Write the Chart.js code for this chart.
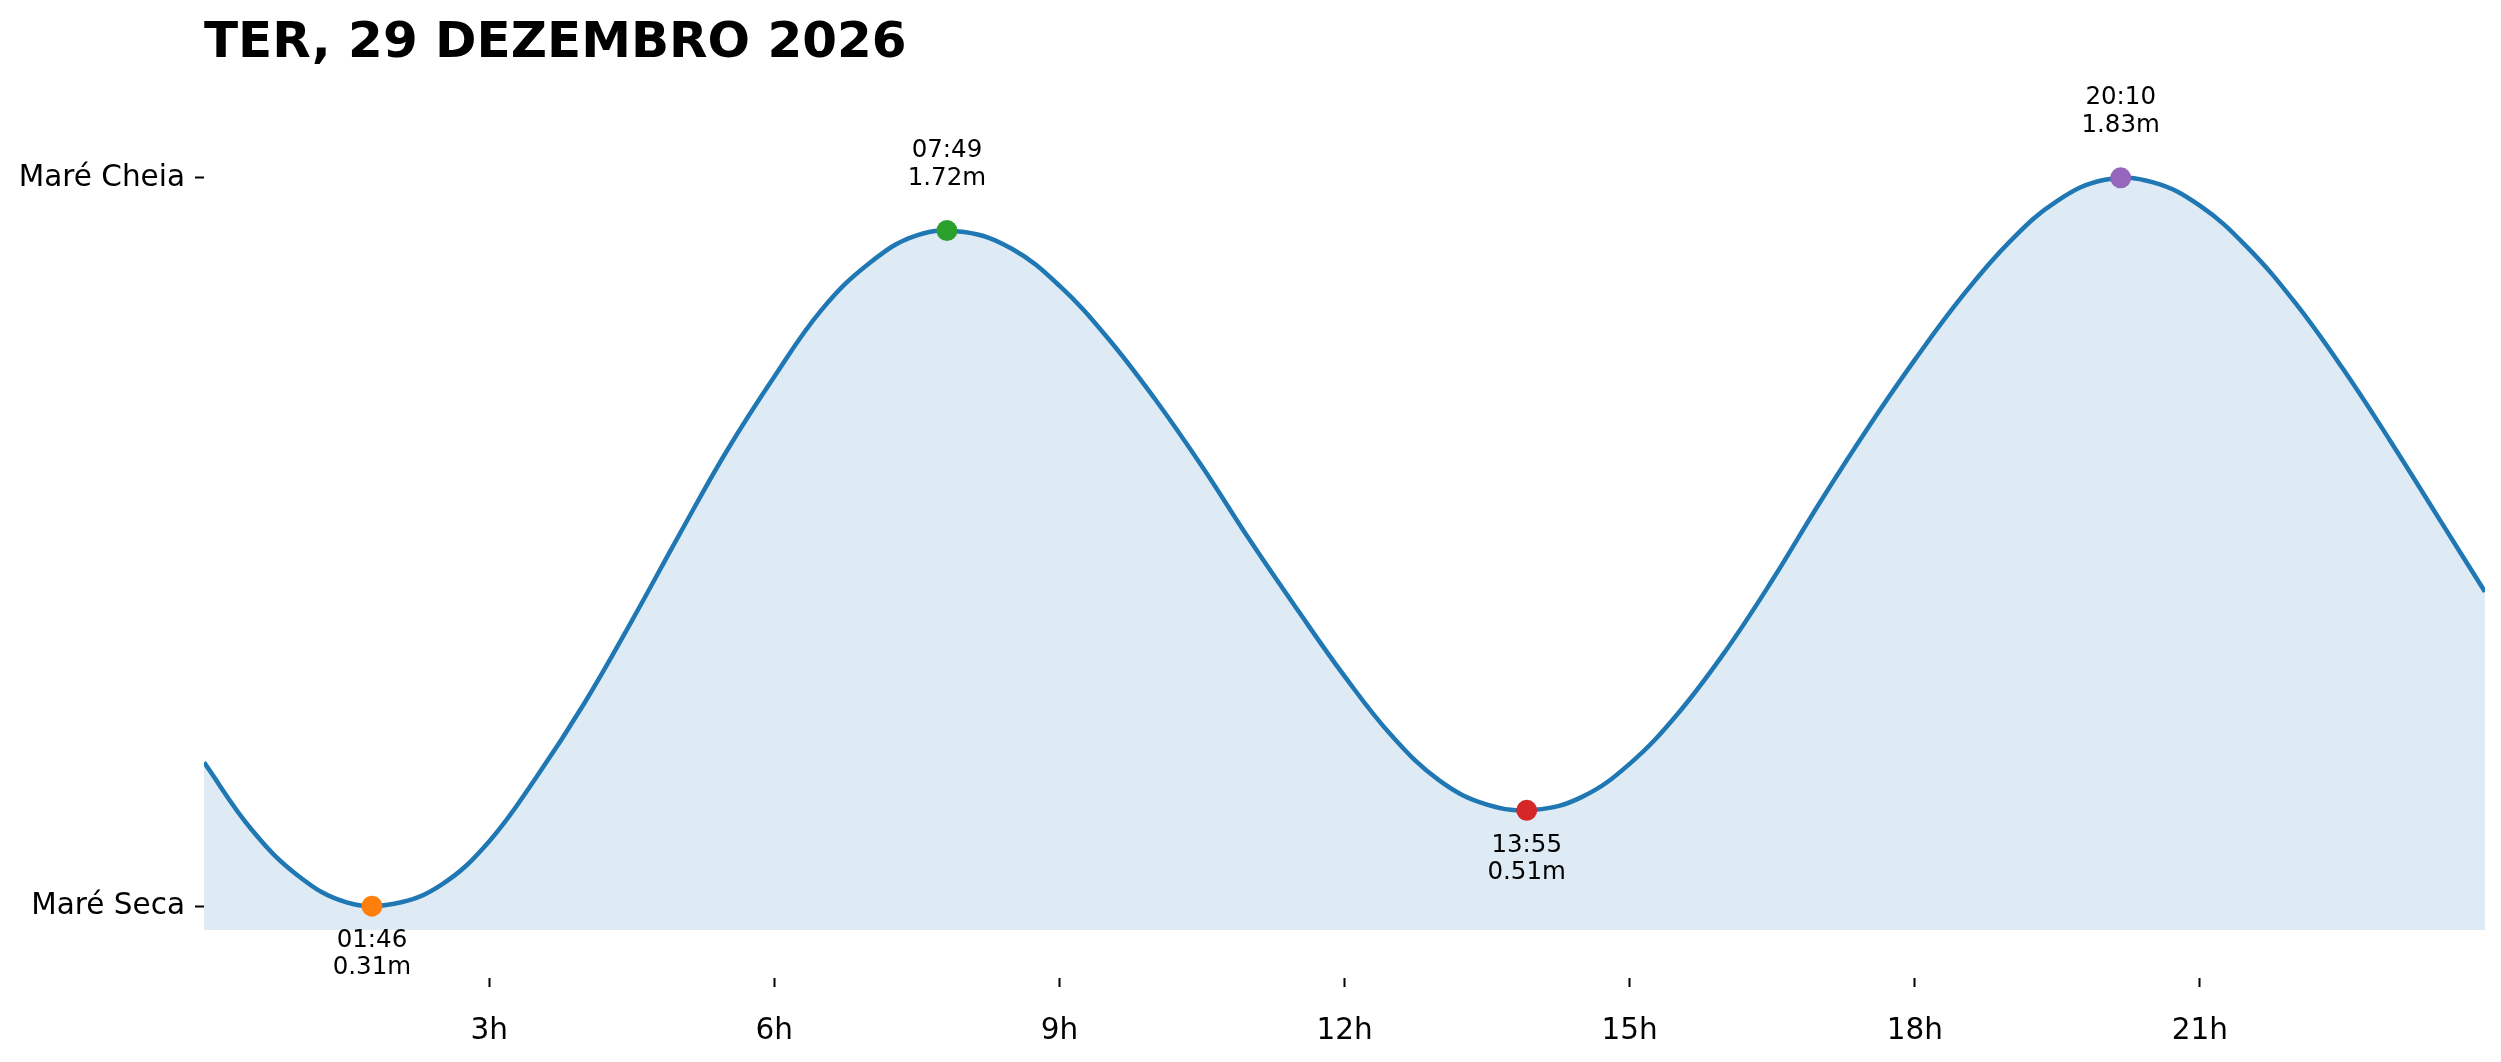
<!DOCTYPE html>
<html>
<head>
<meta charset="utf-8">
<title>Tábua de marés</title>
<script src="https://cdn.jsdelivr.net/npm/chart.js@4/dist/chart.umd.min.js"></script>
<style>
    html, body { margin: 0; padding: 0; background: #fff; }
    canvas { display: block; }
</style>
</head>
<body>
<canvas id="tideChart" width="2501" height="1062" style="width:2501px;height:1062px"></canvas>
<script>
// ---------------------------------------------
// Data
// ---------------------------------------------
const chartTitle = 'TER, 29 DEZEMBRO 2026';

// tide curve, every half hour: hour of day -> height (m)
const curveHours = [0, 0.5, 1, 1.5, 2, 2.5, 3, 3.5, 4, 4.5, 5, 5.5, 6, 6.5, 7, 7.5,
    8, 8.5, 9, 9.5, 10, 10.5, 11, 11.5, 12, 12.5, 13, 13.5, 14, 14.5, 15, 15.5,
    16, 16.5, 17, 17.5, 18, 18.5, 19, 19.5, 20, 20.5, 21, 21.5, 22, 22.5, 23, 23.5, 24];
const curveHeights = [0.61, 0.47, 0.372, 0.318, 0.315, 0.355, 0.445, 0.58, 0.733, 0.905, 1.085, 1.26, 1.415, 1.555, 1.652, 1.71,
    1.717, 1.682, 1.605, 1.498, 1.37, 1.228, 1.075, 0.93, 0.79, 0.665, 0.572, 0.522, 0.511, 0.538, 0.607, 0.71,
    0.84, 0.99, 1.152, 1.306, 1.45, 1.583, 1.697, 1.782, 1.826, 1.821, 1.772, 1.685, 1.57, 1.433, 1.282, 1.124, 0.966];

// high / low water
const extremeTimes = ['01:46', '07:49', '13:55', '20:10'];
const extremeHours = [1.767, 7.817, 13.917, 20.167];
const extremeHeights = [0.31, 1.72, 0.51, 1.83];
const extremeKinds = ['low', 'high', 'low', 'high'];

// axes
const xTickValues = [3, 6, 9, 12, 15, 18, 21];
const yTickValues = [0.31, 1.83];
const yTickLabels = ['Maré Seca', 'Maré Cheia'];

// ---------------------------------------------
// Styles
// ---------------------------------------------
const FONT = '"DejaVu Sans", sans-serif';
const lineColor = '#1f77b4';
const fillColor = 'rgba(31, 119, 180, 0.15)';
const markerColors = ['#ff7f0e', '#2ca02c', '#d62728', '#9467bd'];

// ---------------------------------------------
// Plugins: title + extreme labels
// ---------------------------------------------
const titlePlugin = {
    id: 'leftTitle',
    afterDraw(chart) {
        const ctx = chart.ctx;
        ctx.save();
        ctx.font = 'bold 50px ' + FONT;
        ctx.fillStyle = '#000';
        ctx.textAlign = 'left';
        ctx.textBaseline = 'alphabetic';
        ctx.fillText(chartTitle, chart.chartArea.left, 57);
        ctx.restore();
    }
};

const extremeLabelPlugin = {
    id: 'extremeLabels',
    afterDatasetsDraw(chart) {
        const ctx = chart.ctx;
        const xs = chart.scales.x;
        const ys = chart.scales.y;
        ctx.save();
        ctx.font = '24.5px ' + FONT;
        ctx.fillStyle = '#000';
        ctx.textAlign = 'center';
        ctx.textBaseline = 'middle';
        extremeHours.forEach((h, i) => {
            const px = xs.getPixelForValue(h);
            const py = ys.getPixelForValue(extremeHeights[i]);
            const valueText = extremeHeights[i].toFixed(2) + 'm';
            if (extremeKinds[i] === 'high') {
                ctx.fillText(extremeTimes[i], px, py - 80);
                ctx.fillText(valueText, px, py - 52);
            } else {
                ctx.fillText(extremeTimes[i], px, py + 35);
                ctx.fillText(valueText, px, py + 62);
            }
        });
        ctx.restore();
    }
};

// ---------------------------------------------
// Chart
// ---------------------------------------------
const curvePoints = curveHours.map((h, i) => ({ x: h, y: curveHeights[i] }));
const extremePoints = extremeHours.map((h, i) => ({ x: h, y: extremeHeights[i] }));

new Chart(document.getElementById('tideChart').getContext('2d'), {
    type: 'line',
    data: {
        datasets: [{
            label: 'Extremos',
            data: extremePoints,
            showLine: false,
            pointRadius: 10.5,
            pointBorderWidth: 0,
            pointBackgroundColor: markerColors,
            pointBorderColor: markerColors,
            order: 0
        }, {
            label: 'Maré',
            data: curvePoints,
            borderColor: lineColor,
            borderWidth: 4.5,
            backgroundColor: fillColor,
            fill: { value: 0.26 },
            pointRadius: 0,
            tension: 0.4,
            order: 1
        }]
    },
    options: {
        responsive: false,
        devicePixelRatio: 1,
        animation: false,
        layout: {
            padding: { top: 106, right: 16, bottom: 0, left: 0 }
        },
        plugins: {
            legend: { display: false },
            tooltip: { enabled: false },
            title: { display: false }
        },
        scales: {
            x: {
                type: 'linear',
                min: 0,
                max: 24,
                border: { display: false },
                grid: {
                    display: true,
                    drawOnChartArea: false,
                    drawTicks: true,
                    tickLength: 9,
                    tickWidth: 2,
                    tickColor: '#000'
                },
                afterBuildTicks: scale => {
                    scale.ticks = xTickValues.map(v => ({ value: v }));
                },
                afterFit: scale => { scale.height = 84; },
                ticks: {
                    color: '#000',
                    padding: 27,
                    maxRotation: 0,
                    autoSkip: false,
                    font: { family: FONT, size: 29.5 },
                    callback: v => v + 'h'
                }
            },
            y: {
                type: 'linear',
                min: 0.16,
                max: 1.98,
                border: { display: false },
                grid: {
                    display: true,
                    drawOnChartArea: false,
                    drawTicks: true,
                    tickLength: 9,
                    tickWidth: 2,
                    tickColor: '#000'
                },
                afterBuildTicks: scale => {
                    scale.ticks = yTickValues.map(v => ({ value: v }));
                },
                afterFit: scale => { scale.width = 204; },
                ticks: {
                    color: '#000',
                    padding: 10,
                    autoSkip: false,
                    font: { family: FONT, size: 29.5 },
                    callback: v => {
                        const i = yTickValues.indexOf(v);
                        return i >= 0 ? yTickLabels[i] : '';
                    }
                }
            }
        }
    },
    plugins: [titlePlugin, extremeLabelPlugin]
});
</script>
</body>
</html>
